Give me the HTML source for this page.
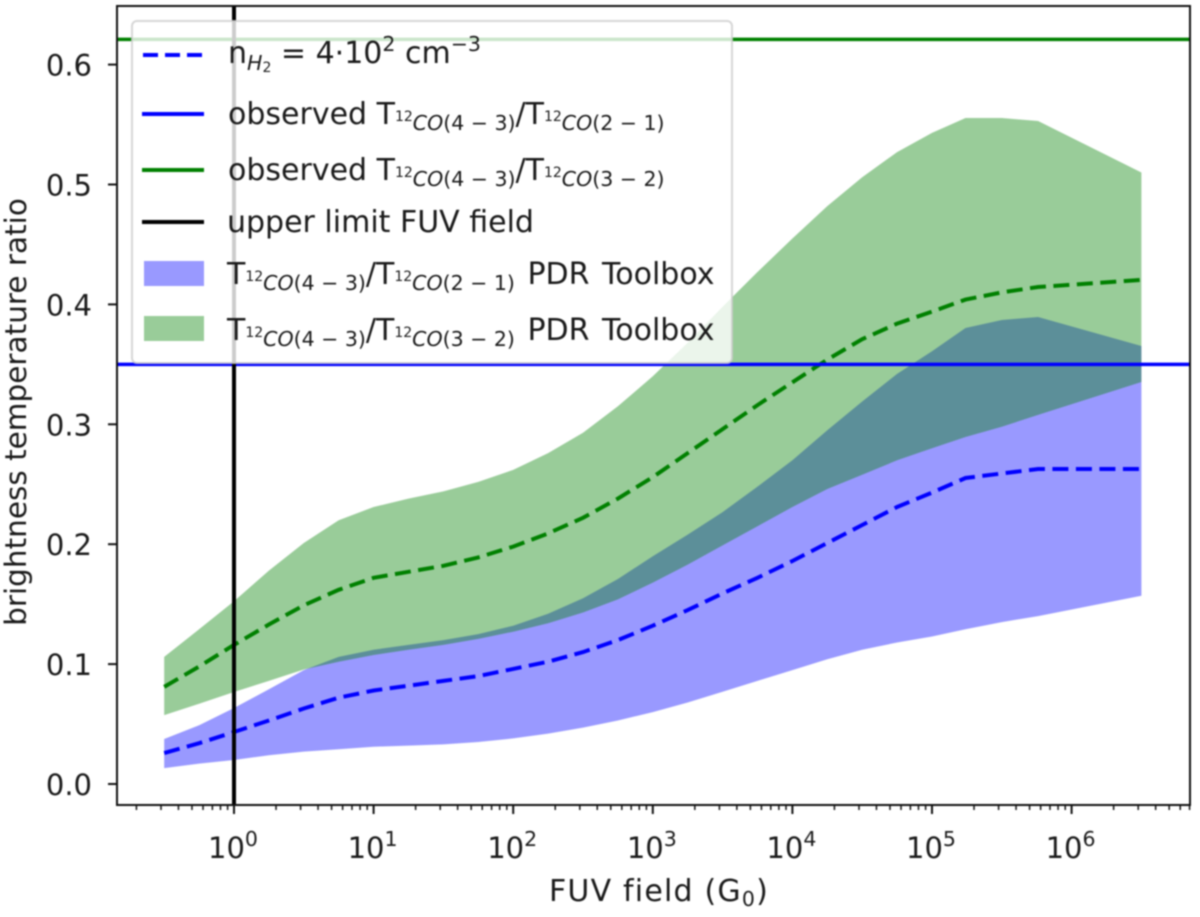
<!DOCTYPE html>
<html lang="en">
<head>
<meta charset="utf-8">
<title>Brightness temperature ratio vs FUV field</title>
<style>
html,body{margin:0;padding:0;background:#fff;width:1200px;height:917px;overflow:hidden}
svg{display:block;filter:blur(0.7px)}
text{font-family:"DejaVu Sans","Liberation Sans",sans-serif;fill:#1a1a1a}
.leg{font-size:30px}
.s{font-size:14px}
.m{font-size:20.5px}
.i{font-style:italic}
.w{word-spacing:3px}
</style>
</head>
<body>
<svg id="chart" xmlns="http://www.w3.org/2000/svg" width="1200" height="917" viewBox="0 0 1200 917">
  <defs><clipPath id="axes-clip"><rect x="117" y="6" width="1073" height="799"/></clipPath></defs>
  <g id="plot" clip-path="url(#axes-clip)"></g>
  <g id="axes"></g>
  <text x="659" y="901" text-anchor="middle" font-size="30" letter-spacing="1.2">FUV field (G<tspan font-size="20.5" dy="5">0</tspan><tspan dy="-5">)</tspan></text>
  <text transform="translate(26,412) rotate(-90)" text-anchor="middle" font-size="29.5">brightness temperature ratio</text>
  <g>
    <rect x="132" y="21" width="600" height="342" rx="5" fill="#fff" fill-opacity="0.8" stroke="#ccc" stroke-opacity="0.8" stroke-width="2"/>
    <line x1="143" x2="204" y1="55" y2="55" stroke="#0000ff" stroke-width="4" stroke-dasharray="15 7"/>
    <text class="leg" x="228" y="63">n<tspan class="m i" dy="7">H</tspan><tspan font-size="14" dy="2">2</tspan><tspan dy="-9"> = 4·10</tspan><tspan class="m" dy="-12">2</tspan><tspan dy="12"> cm</tspan><tspan class="m" dy="-12">−3</tspan></text>
    <line x1="142" x2="204" y1="114" y2="114" stroke="#0000ff" stroke-width="4"/>
    <text class="leg" x="228" y="124">observed T<tspan class="s" dy="-3">12</tspan><tspan class="m i" dy="9">CO</tspan><tspan class="m">(4 − 3)</tspan><tspan dy="-6">/T</tspan><tspan class="s" dy="-3">12</tspan><tspan class="m i" dy="9">CO</tspan><tspan class="m">(2 − 1)</tspan></text>
    <line x1="142" x2="204" y1="170" y2="170" stroke="#008000" stroke-width="4"/>
    <text class="leg" x="228" y="180">observed T<tspan class="s" dy="-3">12</tspan><tspan class="m i" dy="9">CO</tspan><tspan class="m">(4 − 3)</tspan><tspan dy="-6">/T</tspan><tspan class="s" dy="-3">12</tspan><tspan class="m i" dy="9">CO</tspan><tspan class="m">(3 − 2)</tspan></text>
    <line x1="142" x2="204" y1="222" y2="222" stroke="#000" stroke-width="4"/>
    <text class="leg" x="227" y="232">upper limit FUV field</text>
    <rect x="144" y="261" width="60" height="25" fill="#0000ff" fill-opacity="0.4"/>
    <text class="leg" x="227" y="284">T<tspan class="s" dy="-3">12</tspan><tspan class="m i" dy="9">CO</tspan><tspan class="m">(4 − 3)</tspan><tspan dy="-6">/T</tspan><tspan class="s" dy="-3">12</tspan><tspan class="m i" dy="9">CO</tspan><tspan class="m">(2 − 1)</tspan><tspan class="w" dy="-6"> PDR Toolbox</tspan></text>
    <rect x="144" y="316" width="60" height="25" fill="#008000" fill-opacity="0.4"/>
    <text class="leg" x="227" y="340">T<tspan class="s" dy="-3">12</tspan><tspan class="m i" dy="9">CO</tspan><tspan class="m">(4 − 3)</tspan><tspan dy="-6">/T</tspan><tspan class="s" dy="-3">12</tspan><tspan class="m i" dy="9">CO</tspan><tspan class="m">(3 − 2)</tspan><tspan class="w" dy="-6"> PDR Toolbox</tspan></text>
  </g>
</svg>
<script>
const logField = [-0.5, -0.25, 0, 0.25, 0.5, 0.75, 1, 1.25, 1.5, 1.75, 2, 2.25, 2.5, 2.75, 3, 3.25, 3.5, 3.75, 4, 4.25, 4.5, 4.75, 5, 5.24, 5.5, 5.76, 6.5];
const blueMid = [0.0258, 0.034, 0.0434, 0.053, 0.063, 0.072, 0.078, 0.082, 0.086, 0.09, 0.096, 0.102, 0.11, 0.12, 0.132, 0.145, 0.159, 0.172, 0.186, 0.201, 0.216, 0.231, 0.243, 0.2552, 0.259, 0.2627, 0.2627];
const blueLow = [0.0133, 0.017, 0.02, 0.024, 0.027, 0.029, 0.031, 0.032, 0.033, 0.035, 0.038, 0.042, 0.047, 0.053, 0.06, 0.068, 0.077, 0.086, 0.095, 0.104, 0.112, 0.118, 0.123, 0.129, 0.135, 0.14, 0.157];
const blueHigh = [0.0375, 0.049, 0.0634, 0.079, 0.095, 0.106, 0.112, 0.116, 0.12, 0.125, 0.132, 0.142, 0.155, 0.171, 0.19, 0.208, 0.2268, 0.248, 0.27, 0.295, 0.319, 0.342, 0.361, 0.3803, 0.387, 0.3895, 0.3653];
const greenMid = [0.081, 0.098, 0.116, 0.133, 0.149, 0.162, 0.172, 0.177, 0.182, 0.189, 0.198, 0.209, 0.222, 0.238, 0.256, 0.276, 0.296, 0.316, 0.335, 0.354, 0.371, 0.384, 0.394, 0.404, 0.41, 0.4145, 0.4204];
const greenLow = [0.0575, 0.067, 0.0767, 0.086, 0.0955, 0.102, 0.1076, 0.112, 0.116, 0.121, 0.127, 0.134, 0.143, 0.154, 0.168, 0.183, 0.199, 0.215, 0.231, 0.246, 0.258, 0.27, 0.28, 0.2894, 0.298, 0.3078, 0.3353];
const greenHigh = [0.106, 0.129, 0.1525, 0.178, 0.201, 0.22, 0.231, 0.238, 0.244, 0.252, 0.262, 0.276, 0.293, 0.315, 0.34, 0.368, 0.398, 0.427, 0.455, 0.482, 0.506, 0.527, 0.543, 0.5555, 0.5555, 0.553, 0.51];
const observedBlue = [0.35];
const observedGreen = [0.621];
const upperLimitLog = [0];
const yTicks = [0, 0.1, 0.2, 0.3, 0.4, 0.5, 0.6];
const xDecades = [0, 1, 2, 3, 4, 5, 6];
const minorDecades = [-1, 0, 1, 2, 3, 4, 5, 6];
const minorFactors = [2, 3, 4, 5, 6, 7, 8, 9];

const NS = 'http://www.w3.org/2000/svg';
const LEFT = 117, RIGHT = 1190, TOP = 6, BOTTOM = 805;
function xs(logV) { return 234 + 139.6 * logV; }
function ys(v) { return 784 - 1199 * v; }
function mk(parent, tag, attrs) {
  const el = document.createElementNS(NS, tag);
  for (const k in attrs) el.setAttribute(k, attrs[k]);
  parent.appendChild(el);
  return el;
}
const plot = document.getElementById('plot');
const axes = document.getElementById('axes');

function linePts(vals) {
  return vals.map((v, i) => xs(logField[i]).toFixed(1) + ',' + ys(v).toFixed(1)).join(' ');
}
function bandPts(lo, hi) {
  const up = hi.map((v, i) => xs(logField[i]).toFixed(1) + ',' + ys(v).toFixed(1));
  const down = lo.map((v, i) => xs(logField[i]).toFixed(1) + ',' + ys(v).toFixed(1)).reverse();
  return up.concat(down).join(' ');
}

const blueBand = mk(plot, 'polygon', {points: bandPts(blueLow, blueHigh), fill: '#0000ff', 'fill-opacity': 0.4});


const greenBand = mk(plot, 'polygon', {points: bandPts(greenLow, greenHigh), fill: '#008000', 'fill-opacity': 0.4});


const blueLine = mk(plot, 'polyline', {points: linePts(blueMid), fill: 'none', stroke: '#0000ff', 'stroke-width': 4, 'stroke-dasharray': '16 7.5'});


const greenLine = mk(plot, 'polyline', {points: linePts(greenMid), fill: 'none', stroke: '#008000', 'stroke-width': 4, 'stroke-dasharray': '16 7.5'});


const obsGreen = mk(plot, 'line', {x1: LEFT, x2: RIGHT, y1: ys(observedGreen[0]), y2: ys(observedGreen[0]), stroke: '#008000', 'stroke-width': 3.5});


const obsBlue = mk(plot, 'line', {x1: LEFT, x2: RIGHT, y1: ys(observedBlue[0]), y2: ys(observedBlue[0]), stroke: '#0000ff', 'stroke-width': 3.5});


const limit = mk(plot, 'line', {x1: xs(upperLimitLog[0]), x2: xs(upperLimitLog[0]), y1: TOP, y2: BOTTOM, stroke: '#000', 'stroke-width': 4});



const frame = mk(axes, 'rect', {x: LEFT, y: TOP, width: RIGHT - LEFT, height: BOTTOM - TOP, fill: 'none', stroke: '#111', 'stroke-width': 2});



yTicks.forEach(function (t) {
  const tick = mk(axes, 'line', {x1: LEFT - 9, x2: LEFT, y1: ys(t), y2: ys(t), stroke: '#111', 'stroke-width': 2});
  
  
  const label = mk(axes, 'text', {x: 92, y: ys(t) + 11, 'text-anchor': 'end', 'font-size': 29});
  label.textContent = t.toFixed(1);
  
  
});

xDecades.forEach(function (d) {
  const tick = mk(axes, 'line', {x1: xs(d), x2: xs(d), y1: BOTTOM, y2: BOTTOM + 9, stroke: '#111', 'stroke-width': 2});
  
  
  const label = mk(axes, 'text', {x: xs(d) - 1, y: 858, 'text-anchor': 'middle', 'font-size': 29});
  
  
  label.appendChild(document.createTextNode('10'));
  const sup = mk(label, 'tspan', {'font-size': 20.5, dy: -12});
  sup.textContent = String(d);
});

minorDecades.forEach(function (d) {
  minorFactors.forEach(function (f) {
    const x = xs(d + Math.log10(f));
    if (x < LEFT || x > RIGHT) return;
    const tick = mk(axes, 'line', {x1: x, x2: x, y1: BOTTOM, y2: BOTTOM + 5, stroke: '#111', 'stroke-width': 1.5});
    
    
  });
});
</script>
</body>
</html>
